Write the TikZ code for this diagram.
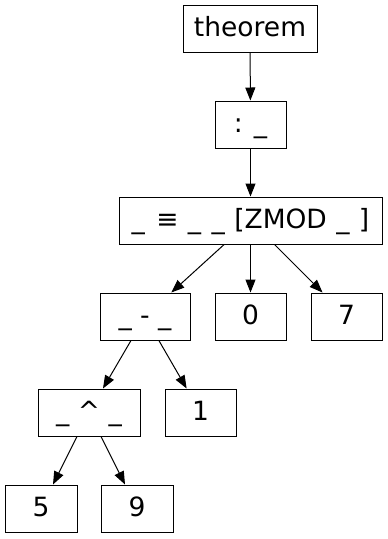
\documentclass[tikz,border=0pt]{standalone}
\usepackage{fontspec}
\setmainfont{DejaVu Sans}
\usetikzlibrary{arrows.meta}
\begin{document}
\begin{tikzpicture}[x=1pt,y=-1pt,
  box/.style={draw, line width=1pt, inner sep=0pt, minimum height=47pt,
    font=\fontsize{26.5}{30}\selectfont, text height=20pt, text depth=5pt},
  edge/.style={-{Triangle[length=13pt,width=10pt]}, line width=1pt}]
\useasboundingbox (0,0) rectangle (388,539);
% expression tree
\node[box, minimum width=134pt] (thm)  at (250,28.5)  {theorem};
\node[box, minimum width=71pt]  (colon) at (250.5,124.5) {: \_};
\node[box, minimum width=263pt] (cong) at (250.5,220.5)
  {\_ \kern3pt≡ \kern1pt\_ \kern2pt\_ \kern1pt[ZMOD \kern1pt\_ \kern1pt]};
\node[box, minimum width=90pt]  (sub)  at (145,316.5)  {\_ - \_};
\node[box, minimum width=71pt]  (zero) at (250.5,316.5) {0};
\node[box, minimum width=71pt]  (seven) at (346.5,316.5) {7};
\node[box, minimum width=102pt] (pow)  at (89,412.5)   {\_ \textasciicircum\ \_};
\node[box, minimum width=71pt]  (one)  at (200.5,412.5) {1};
\node[box, minimum width=72pt]  (five) at (41,508.5)   {5};
\node[box, minimum width=72pt]  (nine) at (137,508.5)  {9};
% connectors
\draw[edge] (thm) -- (colon);
\draw[edge] (colon) -- (cong);
\draw[edge] (cong) -- (sub);
\draw[edge] (cong) -- (zero);
\draw[edge] (cong) -- (seven);
\draw[edge] (sub) -- (pow);
\draw[edge] (sub) -- (one);
\draw[edge] (pow) -- (five);
\draw[edge] (pow) -- (nine);
\end{tikzpicture}
\end{document}
